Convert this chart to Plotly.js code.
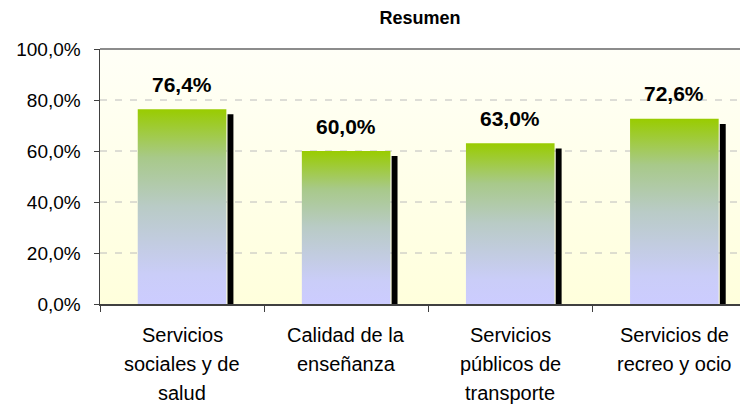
<!DOCTYPE html>
<html>
<head>
<meta charset="utf-8">
<script src="https://cdn.plot.ly/plotly-3.0.1.min.js"></script>
<style>
  html, body { margin: 0; padding: 0; background: #ffffff; }
  #grafico { width: 740px; height: 405px; }
</style>
</head>
<body>
<div id="grafico"></div>
<script>
// datos
const categorias = [
  ["Servicios", "sociales y de", "salud"],
  ["Calidad de la", "enseñanza"],
  ["Servicios", "públicos de", "transporte"],
  ["Servicios de", "recreo y ocio"]
];
const valores = [76.4, 60.0, 63.0, 72.6];
const etiquetas = ["76,4%", "60,0%", "63,0%", "72,6%"];
const marcasY = [0, 20, 40, 60, 80, 100];
const textoMarcasY = ["0,0%", "20,0%", "40,0%", "60,0%", "80,0%", "100,0%"];

const fuente = "Liberation Sans, Arial, sans-serif";
const rangoX = [-0.5, 3.4];
const rangoY = [0, 100];
const mitad = 0.27;      // media anchura de la barra
const caidaSombra = 2;   // la sombra queda un poco mas baja

function rectangulo(x0, x1, y0, y1) {
  return { x: [x0, x0, x1, x1, x0], y: [y0, y1, y1, y0, y0] };
}

let trazas = [];

// fondo del area de trazado con degradado amarillo claro
let fondo = rectangulo(rangoX[0], rangoX[1], rangoY[0], rangoY[1]);
trazas.push({
  type: "scatter", mode: "lines",
  x: fondo.x, y: fondo.y,
  fill: "toself",
  line: { width: 0, color: "rgba(0,0,0,0)" },
  fillgradient: { type: "vertical", colorscale: [[0, "#ffffdc"], [1, "#fffff7"]] },
  hoverinfo: "skip", showlegend: false
});

// lineas de division discontinuas (encima del fondo)
let gx = [], gy = [];
marcasY.filter(v => v > rangoY[0] && v < rangoY[1]).forEach(v => {
  gx.push(rangoX[0], rangoX[1], null);
  gy.push(v, v, null);
});
trazas.push({
  type: "scatter", mode: "lines",
  x: gx, y: gy,
  line: { color: "#bcbcbc", width: 1, dash: "7px,8px" },
  hoverinfo: "skip", showlegend: false
});

// barras con degradado (un trazo por barra para que cada una tenga su degradado)
for (let i = 0; i < valores.length; i++) {
  let r = rectangulo(i - mitad, i + mitad, 0, valores[i]);
  trazas.push({
    type: "scatter", mode: "lines",
    x: r.x, y: r.y,
    fill: "toself",
    line: { width: 0, color: "rgba(0,0,0,0)" },
    fillgradient: {
      type: "vertical",
      colorscale: [
        [0, "#ccccff"],
        [0.15, "#cacdf8"],
        [0.5, "#b9cbc6"],
        [0.75, "#a8c98a"],
        [1, "#99cc00"]
      ]
    },
    hoverinfo: "skip", showlegend: false
  });
}

// sombra negra a la derecha de cada barra
for (let i = 0; i < valores.length; i++) {
  let s = rectangulo(i + 0.277, i + 0.313, 0, valores[i] - caidaSombra);
  trazas.push({
    type: "scatter", mode: "lines",
    x: s.x, y: s.y,
    fill: "toself",
    fillcolor: "#000000",
    line: { width: 0, color: "rgba(0,0,0,0)" },
    hoverinfo: "skip", showlegend: false
  });
}

// etiquetas de valor encima de las barras
let anotaciones = valores.map((v, i) => ({
  x: i, y: v, xref: "x", yref: "y",
  text: "<b>" + etiquetas[i] + "</b>",
  showarrow: false,
  yanchor: "middle",
  yshift: 25,
  font: { family: fuente, size: 21, color: "#000000" }
}));

// etiquetas de categoria, linea por linea
categorias.forEach((lineas, i) => {
  lineas.forEach((linea, k) => {
    anotaciones.push({
      x: i, y: 0, xref: "x", yref: "paper",
      text: linea,
      showarrow: false,
      yanchor: "middle",
      yshift: -31 - 29 * k,
      font: { family: fuente, size: 20, color: "#000000" }
    });
  });
});

let layout = {
  width: 740,
  height: 405,
  margin: { l: 100, r: 0, t: 49, b: 101 },
  paper_bgcolor: "#ffffff",
  plot_bgcolor: "#ffffea",
  title: {
    text: "<b>Resumen</b>",
    font: { family: fuente, size: 18, color: "#000000" },
    x: 0.5, xref: "paper",
    y: 1 - 18 / 405, yref: "container", yanchor: "middle"
  },
  xaxis: {
    range: rangoX,
    showgrid: false,
    zeroline: false,
    showline: true,
    linecolor: "#404040",
    linewidth: 1.5,
    tickvals: [],
    ticks: "",
    minor: { tick0: -0.5, dtick: 1, ticks: "outside", ticklen: 6, tickcolor: "#404040", showgrid: false },
    layer: "above traces",
    fixedrange: true
  },
  yaxis: {
    range: rangoY,
    tickvals: marcasY,
    ticktext: textoMarcasY,
    ticks: "outside",
    ticklen: 5,
    tickcolor: "#404040",
    ticklabelstandoff: 9,
    tickfont: { family: fuente, size: 19, color: "#000000" },
    showline: true,
    linecolor: "#404040",
    linewidth: 1.5,
    showgrid: false,
    layer: "above traces",
    zeroline: false,
    fixedrange: true
  },
  shapes: [
    { type: "line", xref: "paper", yref: "paper", x0: 0, x1: 1, y0: 1, y1: 1,
      line: { color: "#8c8c8c", width: 2 } }
  ],
  annotations: anotaciones
};

Plotly.newPlot("grafico", trazas, layout, { displayModeBar: false, staticPlot: true });
</script>
</body>
</html>
